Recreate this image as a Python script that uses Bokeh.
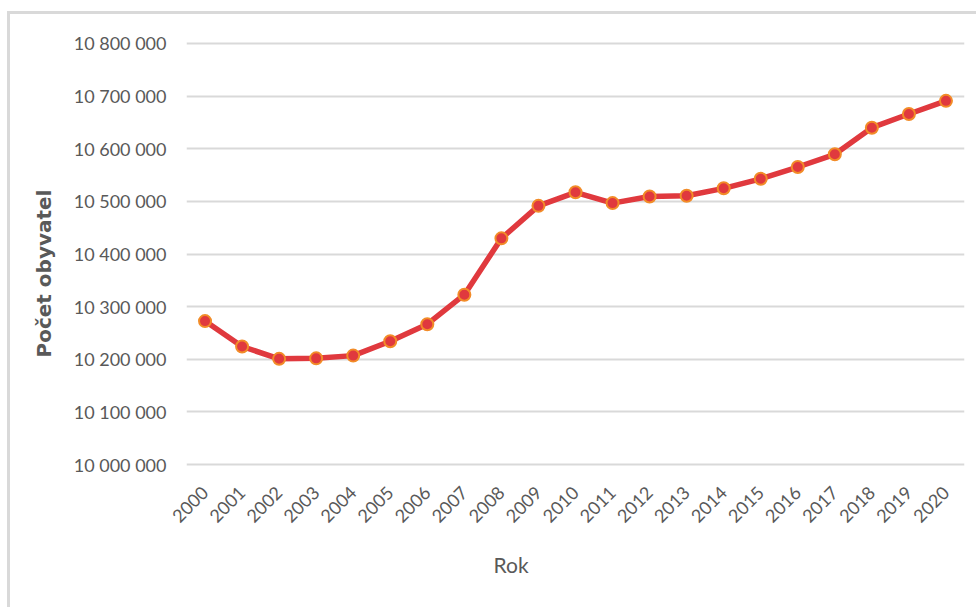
import math
from bokeh.plotting import figure
from bokeh.models import ColumnDataSource, FixedTicker, Range1d, Title
from bokeh.embed import file_html
from bokeh.resources import INLINE

# ---- data ----
years = ["2000", "2001", "2002", "2003", "2004", "2005", "2006", "2007", "2008", "2009", "2010",
         "2011", "2012", "2013", "2014", "2015", "2016", "2017", "2018", "2019", "2020"]
population = [10272500, 10224200, 10200800, 10201700, 10206900, 10234100, 10266600, 10322700,
              10429700, 10491500, 10517200, 10496700, 10509300, 10510700, 10524800, 10542900,
              10565300, 10589500, 10640000, 10666000, 10691000]
y_ticks = [10000000, 10100000, 10200000, 10300000, 10400000, 10500000, 10600000, 10700000, 10800000]
y_tick_labels = ["10 000 000", "10 100 000", "10 200 000", "10 300 000", "10 400 000",
                 "10 500 000", "10 600 000", "10 700 000", "10 800 000"]
x_title = "Rok"
y_title = "Počet obyvatel"

source = ColumnDataSource(data=dict(year=years, pop=population))

TICK_FONT = "Lato"
GRAY = "#595959"

p = figure(x_range=years, y_range=Range1d(9994300, 10805700),
           width=969, height=596, output_backend="svg", toolbar_location=None,
           min_border_left=176, min_border_right=15, min_border_top=26, min_border_bottom=143)
p.styles = {"border-top": "3px solid #d9d9d9", "border-left": "3px solid #d9d9d9",
            "margin-left": "7px", "margin-top": "11px"}
p.outline_line_color = None
p.background_fill_color = "white"
p.border_fill_color = "white"

p.line("year", "pop", source=source, line_color="#E0393E", line_width=5.5, line_join="round")
p.scatter("year", "pop", source=source, size=12, fill_color="#E0393E",
          line_color="#F28C28", line_width=2)

# axes
p.yaxis.ticker = FixedTicker(ticks=y_ticks)
p.yaxis.major_label_overrides = {t: l for t, l in zip(y_ticks, y_tick_labels)}
for ax in (p.xaxis[0], p.yaxis[0]):
    ax.axis_line_color = None
    ax.major_tick_line_color = None
    ax.minor_tick_line_color = None
    ax.major_tick_out = 0
    ax.major_tick_in = 0
    ax.major_label_text_font = TICK_FONT
    ax.major_label_text_font_size = "18px"
    ax.major_label_text_color = GRAY
p.yaxis.major_label_standoff = 20
p.xaxis.major_label_orientation = math.pi / 4
p.xaxis.major_label_standoff = 22

p.xgrid.grid_line_color = None
p.ygrid.grid_line_color = "#D9D9D9"
p.ygrid.grid_line_width = 2

# axis titles, placed as side titles so they can be offset like the original
p.add_layout(Title(text=x_title, align="left", offset=307, standoff=36,
                   text_font=TICK_FONT, text_font_size="21px", text_color=GRAY,
                   text_font_style="normal"), "below")
p.add_layout(Title(text=y_title, align="left", offset=110, standoff=30,
                   text_font="DejaVu Sans", text_font_style="bold",
                   text_font_size="20px", text_color=GRAY), "left")

open("out.html", "w").write(file_html(p, INLINE))
